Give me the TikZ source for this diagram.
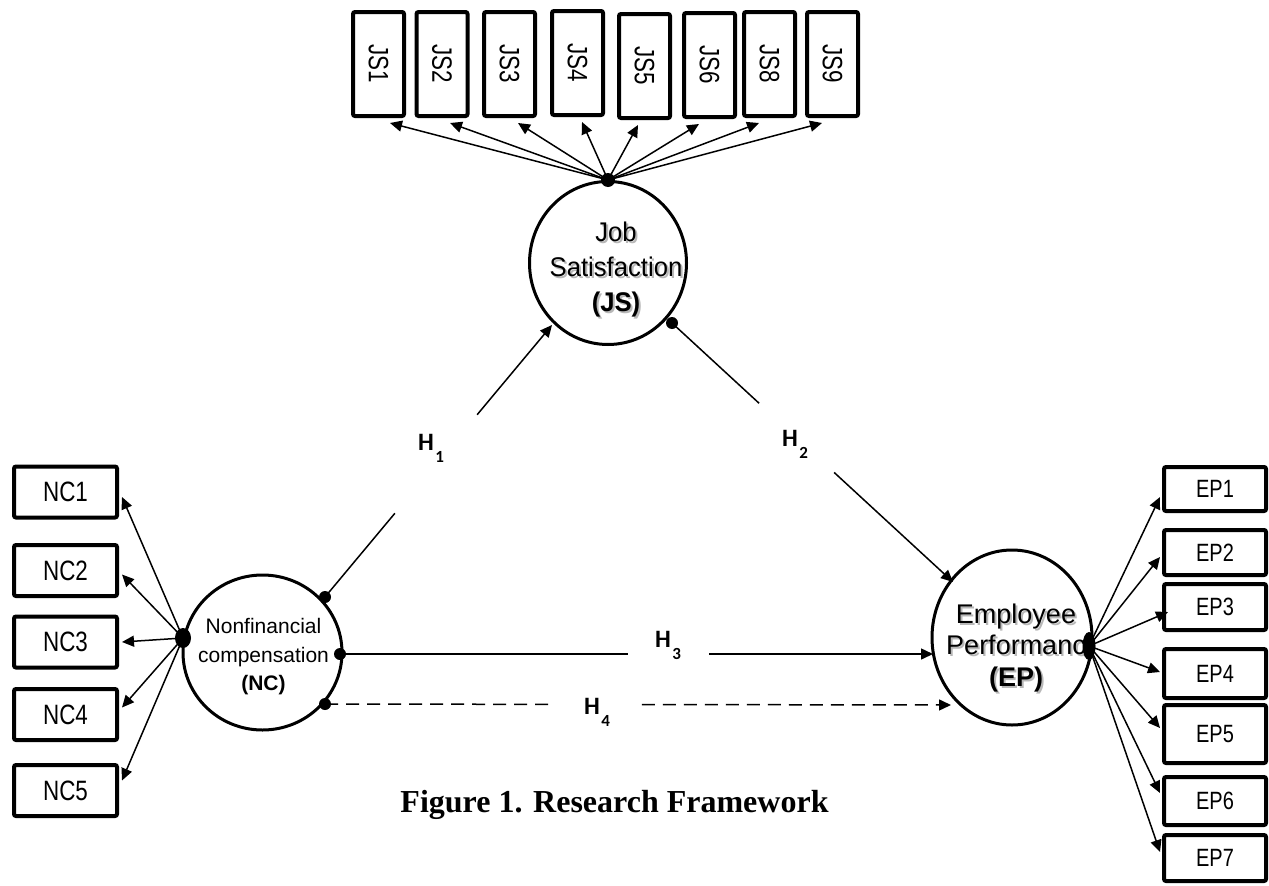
\documentclass[tikz,border=0pt]{standalone}
\usepackage{fontspec}
\usepackage{graphicx}
\setmainfont{Liberation Sans}
\newfontfamily\narrowfont[FakeStretch=0.8]{Liberation Sans}
\newfontfamily\semifont[FakeStretch=0.95]{Liberation Sans}
\newfontfamily\hfont{Carlito}
\newfontfamily\capfont{Liberation Serif}
\usetikzlibrary{arrows.meta,shapes.geometric,calc}
\newcommand\hlab[1]{{\hfont\bfseries\fontsize{25}{25}\selectfont H\kern1.5pt\raisebox{-12pt}{\fontsize{17}{17}\selectfont #1}}}
\begin{document}
\begin{tikzpicture}[x=1pt,y=-1pt,
  ind/.style={draw, line width=4pt, rounded corners=2pt, inner sep=0pt, fill=white},
  ncbox/.style={ind, minimum width=103pt, minimum height=51pt, font=\narrowfont\fontsize{28}{28}\selectfont},
  jsbox/.style={ind, minimum width=51pt, minimum height=104pt, font=\narrowfont\fontsize{28}{28}\selectfont},
  epbox/.style={ind, minimum width=102pt, font=\narrowfont\fontsize{25}{25}\selectfont},
  latent/.style={draw, ellipse, line width=3pt, inner sep=0pt},
  conn/.style={line width=1.5pt},
  arr/.style={conn, -{Triangle[length=12pt,width=11pt]}},
  dashd/.style={arr, dash pattern=on 13pt off 8pt},
  dot/.style={fill=black},
  hl/.style={inner sep=0pt},
  shadowtext/.style={text=black!28}
]
\useasboundingbox (0,0) rectangle (1269,886);

% latent variables
\node[latent, minimum width=157pt, minimum height=163pt] (jsc) at (608,263) {};
\node[latent, minimum width=159pt, minimum height=155pt] (ncc) at (262.5,652.5) {};
\node[latent, minimum width=160pt, minimum height=175pt] (epc) at (1012,637.5) {};

% texts in latent variables
\node[align=center, shadowtext, font=\semifont\fontsize{27}{35}\selectfont] at (618,271.5) {Job\\Satisfaction\\\textbf{(JS)}};
\node[align=center, font=\semifont\fontsize{27}{35}\selectfont] (jst) at (616,269.5) {Job\\Satisfaction\\\textbf{(JS)}};
\node[align=center, font=\fontsize{21}{28.5}\selectfont] (nct) at (263.5,657) {Nonfinancial\\compensation\\\textbf{(NC)}};
\node[align=center, shadowtext, font=\fontsize{27}{31.5}\selectfont] at (1018,650) {Employee\\Performanc\\\textbf{(EP)}};
\node[align=center, font=\fontsize{27}{31.5}\selectfont] (ept) at (1016,648) {Employee\\Performanc\\\textbf{(EP)}};

% indicator boxes
\node[jsbox] (js1) at (378.5,64) {\rotatebox{-90}{JS1}};
\node[jsbox] (js2) at (442,64) {\rotatebox{-90}{JS2}};
\node[jsbox] (js3) at (509.5,64) {\rotatebox{-90}{JS3}};
\node[jsbox] (js4) at (577.5,63) {\rotatebox{-90}{JS4}};
\node[jsbox] (js5) at (644.5,66) {\rotatebox{-90}{JS5}};
\node[jsbox] (js6) at (709.5,65) {\rotatebox{-90}{JS6}};
\node[jsbox] (js8) at (769.5,64) {\rotatebox{-90}{JS8}};
\node[jsbox] (js9) at (832.5,64) {\rotatebox{-90}{JS9}};

\node[ncbox] (nc1) at (65.5,492) {NC1};
\node[ncbox] (nc2) at (65.5,570.5) {NC2};
\node[ncbox] (nc3) at (65.5,642) {NC3};
\node[ncbox] (nc4) at (65.5,714.5) {NC4};
\node[ncbox] (nc5) at (65.5,790.5) {NC5};

\node[epbox, minimum height=44pt] (ep1) at (1215,489) {EP1};
\node[epbox, minimum height=45pt] (ep2) at (1215,552.5) {EP2};
\node[epbox, minimum height=46pt] (ep3) at (1215,607) {EP3};
\node[epbox, minimum height=49pt] (ep4) at (1215,673.5) {EP4};
\node[epbox, minimum height=58pt] (ep5) at (1215,734) {EP5};
\node[epbox, minimum height=48pt] (ep6) at (1215,801) {EP6};
\node[epbox, minimum height=46pt] (ep7) at (1215,858) {EP7};

% hub and path points
\coordinate (jshub) at (jsc.north);
\coordinate (jsdot) at (672,323);
\coordinate (nchub) at (183,638);
\coordinate (ncdot1) at (325,597);
\coordinate (ncdot3) at (340,654);
\coordinate (ncdot4) at (325,704);
\coordinate (ephub) at (1089,646);
\coordinate (h1end) at (552,325);
\coordinate (h2end) at (953,582);
\coordinate (h3end) at (933,654);
\coordinate (h4end) at (951,705);

% JS loadings
\draw[arr] (jshub) -- ($(js1.south)+(11.5,5)$);
\draw[arr] (jshub) -- ($(js2.south)+(8,5)$);
\draw[arr] (jshub) -- ($(js3.south)+(8.5,5)$);
\draw[arr] (jshub) -- ($(js4.south)+(4.5,5)$);
\draw[arr] (jshub) -- ($(js5.south)+(-6.5,5)$);
\draw[arr] (jshub) -- ($(js6.south)+(-10.5,5)$);
\draw[arr] (jshub) -- ($(js8.south)+(-10.5,5)$);
\draw[arr] (jshub) -- ($(js9.south)+(-10.5,5)$);

% NC loadings
\draw[arr] (nchub) -- ($(nc1.east)+(3,5)$);
\draw[arr] (nchub) -- ($(nc2.east)+(3,4)$);
\draw[arr] (nchub) -- ($(nc3.east)+(3,0)$);
\draw[arr] (nchub) -- ($(nc4.east)+(3,-7)$);
\draw[arr] (nchub) -- ($(nc5.east)+(3,-10)$);

% EP loadings
\draw[arr] (ephub) -- ($(ep1.west)+(-2,8)$);
\draw[arr] (ephub) -- ($(ep2.west)+(-2,4.5)$);
\draw[arr] (ephub) -- ($(ep3.west)+(6,5)$);
\draw[arr] (ephub) -- ($(ep4.west)+(-2,-1.5)$);
\draw[arr] (ephub) -- ($(ep5.west)+(-2,-6)$);
\draw[arr] (ephub) -- ($(ep6.west)+(-2,-8)$);
\draw[arr] (ephub) -- ($(ep7.west)+(-2,-6)$);

% structural paths
\draw[conn] (ncdot1) -- ($(ncdot1)!0.308!(h1end)$);
\draw[arr] ($(ncdot1)!0.67!(h1end)$) -- (h1end);
\draw[conn] (jsdot) -- ($(jsdot)!0.31!(h2end)$);
\draw[arr] ($(jsdot)!0.577!(h2end)$) -- (h2end);
\draw[conn] (ncdot3) -- ($(ncdot3)!0.485!(h3end)$);
\draw[arr] ($(ncdot3)!0.623!(h3end)$) -- (h3end);
\draw[conn, dash pattern=on 13pt off 8pt] (ncdot4) -- ($(ncdot4)!0.365!(h4end)$);
\draw[dashd] ($(ncdot4)!0.506!(h4end)$) -- (h4end);

% dots
\fill[dot] (jshub) circle[radius=7pt];
\fill[dot] (jsdot) circle[radius=6pt];
\fill[dot] (nchub) ellipse[x radius=8pt, y radius=10pt];
\fill[dot] (ncdot1) circle[radius=6pt];
\fill[dot] (ncdot3) circle[radius=6pt];
\fill[dot] (ncdot4) circle[radius=6pt];
\fill[dot] (ephub) ellipse[x radius=6.5pt, y radius=14pt];

% hypothesis labels
\node[hl] (h1) at (431,448) {\hlab{1}};
\node[hl] (h2) at (795,444) {\hlab{2}};
\node[hl] (h3) at (668,645) {\hlab{3}};
\node[hl] (h4) at (597,712) {\hlab{4}};

% caption
\node[anchor=base, inner sep=0pt, font=\capfont\bfseries\fontsize{32}{32}\selectfont] (cap) at (614.5,812) {Figure 1. Research Framework};
\end{tikzpicture}
\end{document}
